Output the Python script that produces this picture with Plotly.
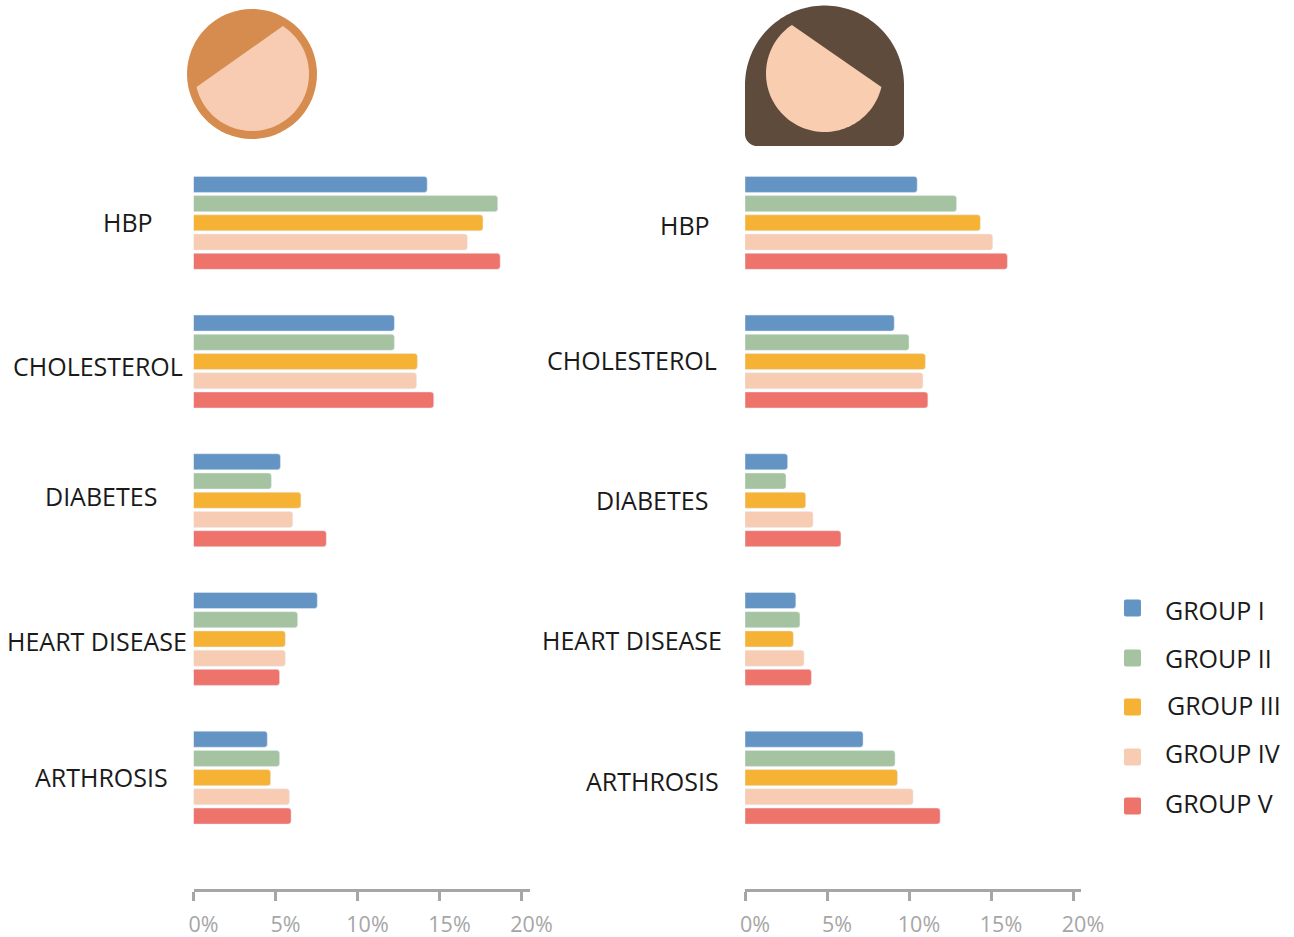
import numpy as np
import plotly.graph_objects as go

W, H = 1294, 937

conditions = ['HBP', 'CHOLESTEROL', 'DIABETES', 'HEART DISEASE', 'ARTHROSIS']
groups = ['GROUP I', 'GROUP II', 'GROUP III', 'GROUP IV', 'GROUP V']
colors = ['#6394C3', '#A5C3A1', '#F6B234', '#F7CCB2', '#EE736A']

# men, % per condition
men_1 = [14.25, 12.25, 5.3, 7.55, 4.5]
men_2 = [18.55, 12.25, 4.75, 6.35, 5.25]
men_3 = [17.65, 13.65, 6.55, 5.6, 4.7]
men_4 = [16.7, 13.6, 6.05, 5.6, 5.85]
men_5 = [18.7, 14.65, 8.1, 5.25, 5.95]

# women, % per condition
women_1 = [10.5, 9.1, 2.6, 3.1, 7.2]
women_2 = [12.9, 10.0, 2.5, 3.35, 9.15]
women_3 = [14.35, 11.0, 3.7, 2.95, 9.3]
women_4 = [15.1, 10.85, 4.15, 3.6, 10.25]
women_5 = [16.0, 11.15, 5.85, 4.05, 11.9]

tick_vals = [0, 5, 10, 15, 20]
tick_text = ['0%', '5%', '10%', '15%', '20%']

men = [men_1, men_2, men_3, men_4, men_5]
women = [women_1, women_2, women_3, women_4, women_5]

# label positions, in page pixels
men_labels = [(128, 222), (98, 366), (101, 496), (97, 641), (102, 777)]
women_labels = [(685, 225), (632, 360), (652, 500), (632, 640), (652, 781)]
legend_text = [(1163, 610), (1163, 658), (1165, 705), (1163, 753), (1163, 803)]
legend_box = [608, 658, 707, 757, 806]

LABEL_FONT = 'Open Sans'


def px(x, y):
    return x / W, 1 - y / H


def path(points):
    parts = []
    for i, (x, y) in enumerate(points):
        a, b = px(x, y)
        parts.append(('M' if i == 0 else 'L') + f'{a:.5f},{b:.5f}')
    return ' '.join(parts) + ' Z'


def arc(cx, cy, r, start, end, n=80):
    t = np.radians(np.linspace(start, end, n))
    return list(zip(cx + r * np.cos(t), cy + r * np.sin(t)))


def blob(points, color):
    return dict(type='path', xref='paper', yref='paper', path=path(points),
                fillcolor=color, line=dict(width=0), layer='above')


def chord_face(cx, cy, r, p1, p2):
    """Circle cut by a straight fringe line, going clockwise from p1 to p2."""
    a1 = np.degrees(np.arctan2(p1[1] - cy, p1[0] - cx))
    a2 = np.degrees(np.arctan2(p2[1] - cy, p2[0] - cx))
    if a2 < a1:
        a2 += 360
    return arc(cx, cy, r, a1, a2)


def axis(domain, zero, end):
    return dict(domain=domain, range=[0, (end - zero) / 16.4], tickvals=tick_vals, ticktext=tick_text,
                ticks='outside', ticklen=9, tickwidth=2.5, tickcolor='#A6A6A6',
                showline=True, linecolor='#A6A6A6', linewidth=2.5, showgrid=False, zeroline=False,
                ticklabelshift=10, ticklabelstandoff=5,
                tickfont=dict(family='Open Sans', size=21.5, color='#A6A6A6'))


fig = go.Figure()
for i, name in enumerate(groups):
    fig.add_trace(go.Bar(y=conditions, x=men[i], name=name, orientation='h', marker_color=colors[i],
                         marker_cornerradius=3, xaxis='x', yaxis='y', showlegend=False))
    fig.add_trace(go.Bar(y=conditions, x=women[i], name=name, orientation='h', marker_color=colors[i],
                         marker_cornerradius=3, xaxis='x2', yaxis='y2', showlegend=False))

annotations = []
for labels in (men_labels, women_labels):
    for text, (x, y) in zip(conditions, labels):
        a, b = px(x, y)
        annotations.append(dict(text=text, x=a, y=b, xref='paper', yref='paper', showarrow=False,
                                xanchor='center', yanchor='middle',
                                font=dict(family=LABEL_FONT, size=25, color='#1A1A1A')))
for text, (x, y) in zip(groups, legend_text):
    a, b = px(x, y)
    annotations.append(dict(text=text, x=a, y=b, xref='paper', yref='paper', showarrow=False,
                            xanchor='left', yanchor='middle',
                            font=dict(family=LABEL_FONT, size=25, color='#1A1A1A')))

shapes = []
# man
shapes.append(blob(arc(252, 74, 65, 0, 360), '#D68C4E'))
shapes.append(blob(chord_face(252, 74, 57, (283, 26), (197, 87)), '#F7CCB2'))
# woman
hair = arc(824.5, 85, 79.5, 180, 360) + arc(892, 134, 12, 0, 90, 12) + arc(757, 134, 12, 90, 180, 12)
shapes.append(blob(hair, '#5F4B3C'))
shapes.append(blob(chord_face(824.5, 73.5, 58.5, (881, 87), (792, 25)), '#F9CDB0'))
# legend keys
for y, c in zip(legend_box, colors):
    shapes.append(blob(arc(1126, y - 6.5, 2, 180, 270, 5) + arc(1139, y - 6.5, 2, 270, 360, 5)
                       + arc(1139, y + 6.5, 2, 0, 90, 5) + arc(1126, y + 6.5, 2, 90, 180, 5), c))

y_axis = dict(domain=[1 - 889 / H, 1 - 153.5 / H], range=[4.803, -0.5], showticklabels=False, ticks='',
              showgrid=False, zeroline=False, showline=False)

fig.update_layout(width=W, height=H, margin=dict(l=0, r=0, t=0, b=0, autoexpand=False),
                  paper_bgcolor='white', plot_bgcolor='white',
                  barmode='group', bargap=0.307, bargroupgap=0.167,
                  xaxis=dict(axis([193.5 / W, 530 / W], 193.5, 530), anchor='y'),
                  xaxis2=dict(axis([745 / W, 1081 / W], 745, 1081), anchor='y2'),
                  yaxis=dict(y_axis, anchor='x', type='category'),
                  yaxis2=dict(y_axis, anchor='x2', type='category'),
                  annotations=annotations, shapes=shapes)

fig.write_html('out.html', config=dict(displayModeBar=False),
               post_script="document.body.style.margin='0';document.body.style.overflow='hidden';")
